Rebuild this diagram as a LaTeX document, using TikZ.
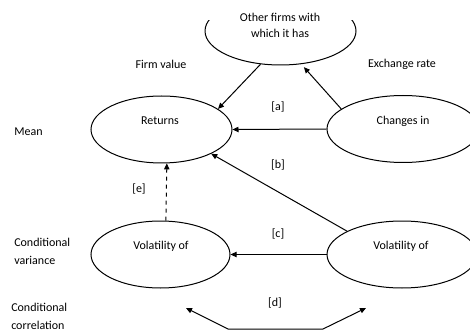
\documentclass[tikz,border=0pt]{standalone}
\usepackage{fontspec}
\setmainfont{Carlito}
\usetikzlibrary{shapes.geometric,arrows.meta,positioning}

\begin{document}
\begin{tikzpicture}[x=0.75pt, y=-0.75pt,
    elip/.style={draw, ellipse, line width=0.75pt, inner sep=0pt},
    flecha/.style={line width=0.75pt, -{Triangle[length=4.5pt,width=4pt]}},
    txt/.style={font=\fontsize{9}{12}\selectfont, inner sep=0pt, align=center},
    lbl/.style={font=\fontsize{9}{13.5}\selectfont, inner sep=0pt, align=left, anchor=west}]
    \useasboundingbox (0,0) rectangle (470,331);
    \clip (0,0) rectangle (470,331);
    %------------Elipses--------------
    \begin{scope}
        \clip (0,21) rectangle (470,331);
        \node[elip, minimum width=113.25pt, minimum height=51pt] (firms) at (280.5,31) {};
    \end{scope}
    \foreach \n/\x/\y/\w in {ret/161.5/129.5/105.75, chg/403/129/114, volL/160.5/254.5/104.25, volR/402/254.5/112.5} {
        \node[elip, minimum width=\w pt, minimum height=50.25pt] (\n) at (\x,\y) {};
    }
    %------------Textos---------------
    \node[txt] (tfirms) at (280,25) {Other firms with\\which it has};
    \node[txt] (tret) at (160,121) {Returns};
    \node[txt] (tchg) at (403,121) {Changes in};
    \node[txt] (tvolL) at (161,246) {Volatility of};
    \node[txt] (tvolR) at (401,246) {Volatility of};
    \node[txt] (firmvalue) at (161,64) {Firm value};
    \node[txt] (exrate) at (402,64) {Exchange rate};
    \node[lbl] (mean) at (14,132) {Mean};
    \node[lbl] (condvar) at (14,251) {Conditional\\variance};
    \node[lbl] (condcor) at (11,316.5) {Conditional\\correlation};
    \foreach \l/\x/\y in {a/278/107, b/278/165, c/278/234, d/275/303, e/139/189} {
        \node[txt] (lab\l) at (\x,\y) {[\l]};
    }
    %------------Flechas--------------
    \draw[flecha] (firms.239) -- (ret.20);
    \draw[flecha, shorten >=3pt] (chg.162) -- (firms.302);
    \draw[flecha] (chg.west) -- (ret.east);
    \draw[flecha] (volR.157) -- (ret.334);
    \draw[flecha] (volR.west) -- (volL.east);
    \draw[flecha, dashed] (volL.81) -- (ret.279);
    %------------Correlacion----------
    \coordinate (dl) at (186,308);
    \coordinate (bl) at (228,329);
    \coordinate (br) at (323,329);
    \coordinate (dr) at (366,308);
    \draw[line width=0.75pt, {Triangle[length=4.5pt,width=4pt]}-{Triangle[length=4.5pt,width=4pt]}] (dl) -- (bl) -- (br) -- (dr);
\end{tikzpicture}
\end{document}
